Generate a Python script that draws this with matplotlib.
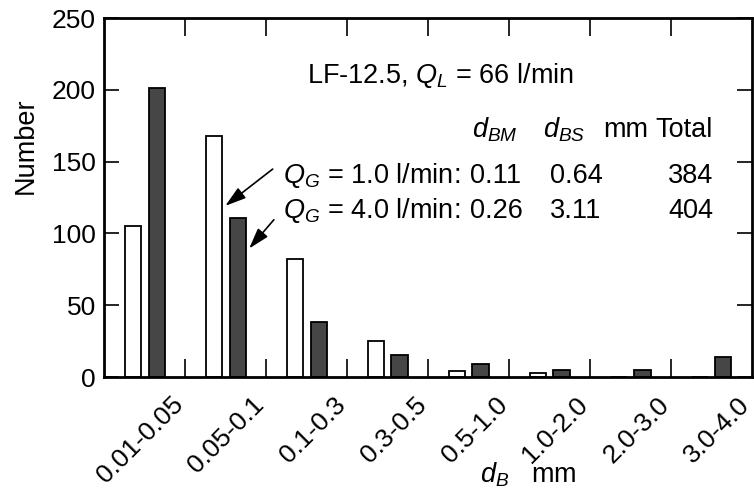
import numpy as np
import matplotlib
matplotlib.use("Agg")
import matplotlib.pyplot as plt
import matplotlib.transforms as mtransforms

plt.rcParams['font.family'] = ['Liberation Sans', 'DejaVu Sans']
plt.rcParams['mathtext.fontset'] = 'custom'
plt.rcParams['mathtext.rm'] = 'Liberation Sans'
plt.rcParams['mathtext.it'] = 'Liberation Sans:italic'
plt.rcParams['font.size'] = 19.5

# bubble size classes and counts
classes = ['0.01-0.05', '0.05-0.1', '0.1-0.3', '0.3-0.5',
           '0.5-1.0', '1.0-2.0', '2.0-3.0', '3.0-4.0']
qg_1 = [105, 168, 82, 25, 4, 3, 0, 0]      # Q_G = 1.0 l/min
qg_4 = [201, 111, 38.5, 15, 9, 5, 5, 14]   # Q_G = 4.0 l/min

fig = plt.figure(figsize=(7.54, 5.01), dpi=100)
ax = fig.add_axes([0.138, 0.2475, 0.859, 0.7165])

x = np.arange(len(classes)) + 0.5
w = 0.2
ax.bar(x - 0.14, qg_1, w, color='white', edgecolor='black', linewidth=1.3)
ax.bar(x + 0.15, qg_4, w, color='#464646', edgecolor='black', linewidth=1.3)

ax.set_xlim(0, 8)
ax.set_ylim(0, 250)
for s in ax.spines.values():
    s.set_linewidth(2)

# boundaries between classes
ax.set_xticks(np.arange(1, 8))
ax.set_xticklabels([])
ax.tick_params(axis='x', which='major', direction='in', length=13, width=1.2,
               top=True, bottom=True)
ax.set_xticks(x, minor=True)
ax.set_xticklabels(classes, minor=True, rotation=45, ha='right', va='center',
                   rotation_mode='anchor', fontsize=19)
ax.tick_params(axis='x', which='minor', length=0, pad=0)
offset = mtransforms.ScaledTranslation(0.35, -0.24, fig.dpi_scale_trans)
for lab in ax.get_xticklabels(minor=True):
    lab.set_transform(lab.get_transform() + offset)

ax.set_yticks([0, 50, 100, 150, 200, 250])
ax.tick_params(axis='y', direction='in', length=11, width=1.2,
               left=True, right=True, pad=6, labelsize=19)

fig.text(0.034, 0.71, 'Number', rotation=90, ha='center', va='center')
fig.text(0.637, 0.036, r'$d_B$   mm', ha='left', va='baseline')

ax.text(2.51, 205, r'LF-12.5, $Q_L$ = 66 l/min', ha='left', va='baseline')

# small table: header and two rows
ax.text(4.54, 167, r'$d_{BM}$', ha='left', va='baseline')
ax.text(5.42, 167, r'$d_{BS}$', ha='left', va='baseline')
ax.text(6.16, 167, 'mm', ha='left', va='baseline')
ax.text(7.52, 167, 'Total', ha='right', va='baseline')
rows = [(135, r'$Q_G$ = 1.0 l/min:', '0.11', '0.64', '384'),
        (110.5, r'$Q_G$ = 4.0 l/min:', '0.26', '3.11', '404')]
for yb, lab, dbm, dbs, tot in rows:
    ax.text(2.21, yb, lab, ha='left', va='baseline')
    ax.text(4.52, yb, dbm, ha='left', va='baseline')
    ax.text(5.51, yb, dbs, ha='left', va='baseline')
    ax.text(7.52, yb, tot, ha='right', va='baseline')

arrow = dict(arrowstyle='-|>,head_length=0.65,head_width=0.2', color='black', lw=1.2)
ax.annotate('', xy=(1.47, 118), xytext=(2.11, 146), arrowprops=arrow)
ax.annotate('', xy=(1.77, 88), xytext=(2.12, 111), arrowprops=arrow)

fig.savefig('out.png', dpi=100)
